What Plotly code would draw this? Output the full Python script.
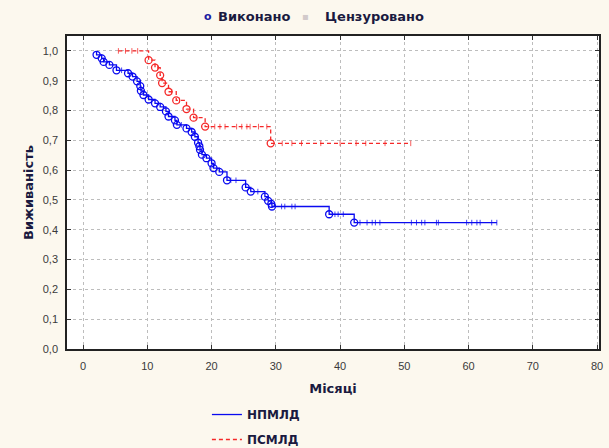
import plotly.graph_objects as go
import numpy as np

# ---------------- data ----------------
x_title = "Місяці"
y_title = "Виживаність"
series_names = ["НПМЛД", "ПСМЛД"]
marker_names = ["Виконано", "Цензуровано"]

x_ticks = [0, 10, 20, 30, 40, 50, 60, 70, 80]
y_ticks = [0.0, 0.1, 0.2, 0.3, 0.4, 0.5, 0.6, 0.7, 0.8, 0.9, 1.0]
y_tick_labels = ["0,0", "0,1", "0,2", "0,3", "0,4", "0,5", "0,6", "0,7", "0,8", "0,9", "1,0"]

# НПМЛД (blue): complete observations (events) and survival after each
npmld_event_t = [2.1, 2.9, 3.2, 4.1, 5.2, 7.0, 7.7, 8.4, 8.9, 9.0, 9.4, 10.2, 11.2, 12.0,
                 12.9, 13.3, 14.3, 14.6, 16.1, 16.9, 17.4, 17.9, 18.1, 18.2, 18.5, 19.2,
                 20.0, 20.3, 21.2, 22.4, 25.3, 26.1, 28.3, 28.8, 29.3, 29.4, 38.3, 42.2]
npmld_event_s = [0.987, 0.975, 0.963, 0.953, 0.935, 0.925, 0.914, 0.898, 0.882, 0.866, 0.852,
                 0.837, 0.824, 0.812, 0.797, 0.780, 0.767, 0.752, 0.740, 0.728, 0.712, 0.692,
                 0.680, 0.668, 0.652, 0.640, 0.623, 0.607, 0.594, 0.566, 0.542, 0.528, 0.511,
                 0.497, 0.487, 0.478, 0.452, 0.424]
npmld_cens_t = [6.0, 15.3, 23.0, 23.8, 27.2, 30.9, 31.4, 32.5, 33.0, 39.2, 39.7, 40.5,
                43.1, 44.2, 45.0, 45.5, 46.2, 51.1, 51.9, 52.7, 53.2, 55.0, 55.3, 59.7,
                60.5, 61.3, 61.8, 63.6, 64.4]

# ПСМЛД (red)
psmld_event_t = [10.2, 11.2, 12.0, 12.3, 13.3, 14.5, 16.1, 17.2, 19.0, 29.2]
psmld_event_s = [0.969, 0.944, 0.918, 0.892, 0.863, 0.834, 0.805, 0.776, 0.746, 0.690]
psmld_cens_t = [5.5, 6.6, 7.6, 8.5, 11.6, 13.8, 15.0, 17.6, 20.5, 21.3, 22.1, 23.9, 24.7,
                25.5, 26.0, 27.3, 28.6, 31.0, 32.5, 34.0, 37.0, 40.0, 42.5, 44.0, 47.0, 51.0]

BLUE = "#0a0af0"
RED = "#f52828"
BG = "#FCF8EE"
TXT = "#1a1a40"
FONT = "Liberation Sans, Arial, sans-serif"
LFONT = "DejaVu Sans, Liberation Sans, sans-serif"


def surv_at(t, ev_t, ev_s):
    s = 1.0
    for et, es in zip(ev_t, ev_s):
        if et <= t:
            s = es
    return s


def km_path(ev_t, ev_s, cens_t):
    times = sorted(list(ev_t) + list(cens_t))
    xs = [times[0]] + times
    ys = [1.0] + [surv_at(t, ev_t, ev_s) for t in times]
    return xs, ys


fig = go.Figure()

groups = [
    (series_names[0], npmld_event_t, npmld_event_s, npmld_cens_t, BLUE, "solid"),
    (series_names[1], psmld_event_t, psmld_event_s, psmld_cens_t, RED, "4px,3px"),
]

for i, (name, et, es, ct, col, dash) in enumerate(groups):
    xs, ys = km_path(et, es, ct)
    fig.add_trace(go.Scatter(
        x=xs, y=ys, mode="lines", line=dict(color=col, width=1.3, dash=dash, shape="hv"),
        name=name, legend="legend2", legendgroup=name, hoverinfo="skip"))
    fig.add_trace(go.Scatter(
        x=et, y=es, mode="markers",
        marker=dict(symbol="circle-open", size=7, color=col, line=dict(width=1.3)),
        showlegend=False, hoverinfo="skip"))
    fig.add_trace(go.Scatter(
        x=ct, y=[surv_at(t, et, es) for t in ct], mode="markers",
        marker=dict(symbol="line-ns-open", size=4, color=col, opacity=0.75,
                    line=dict(width=1, color=col)),
        showlegend=False, hoverinfo="skip"))

axis_common = dict(
    showline=True, linecolor="#222", linewidth=1.5, mirror="ticks",
    ticks="inside", ticklen=4, tickcolor="#333",
    showgrid=True, gridcolor="#bdbdbd", griddash="dot", gridwidth=1,
    zeroline=False, tickfont=dict(family=FONT, size=11, color="#3a3a3a"),
    automargin=False,
)

# top legend (marker types) as text annotations
top_y = 1.061
top_font = dict(family=LFONT, size=13, color=TXT, weight="bold")
annotations = [
    dict(text="<b>o</b>", x=0.265, y=top_y, xanchor="center", yanchor="middle",
         font=dict(family=LFONT, size=11, color="#2020a0")),
    dict(text=marker_names[0], x=0.280, y=top_y, xanchor="left", yanchor="middle",
         font=top_font),
    dict(text="▪", x=0.449, y=top_y, xanchor="center", yanchor="middle",
         font=dict(family=LFONT, size=10, color="#d2caca")),
    dict(text=marker_names[1], x=0.481, y=top_y, xanchor="left", yanchor="middle",
         font=top_font),
]
for a in annotations:
    a.update(xref="paper", yref="paper", showarrow=False)

fig.update_layout(
    width=609, height=448,
    margin=dict(l=67, r=10, t=36, b=99, autoexpand=False),
    paper_bgcolor=BG, plot_bgcolor="white",
    font=dict(family=FONT),
    xaxis=dict(range=[-2.5, 80.3], tickvals=x_ticks, ticklabelstandoff=6,
               title=dict(text=x_title, standoff=13,
                          font=dict(family=LFONT, size=13, color=TXT, weight="bold")),
               **axis_common),
    yaxis=dict(range=[0, 1.05], tickvals=y_ticks, ticktext=y_tick_labels, ticklabelstandoff=5,
               title=dict(text=y_title, standoff=6,
                          font=dict(family=LFONT, size=13, color=TXT, weight="bold")),
               **axis_common),
    legend2=dict(orientation="v", x=0.263, xanchor="left", y=-0.163, yanchor="top",
                 bgcolor="rgba(0,0,0,0)", tracegroupgap=6, itemwidth=30,
                 font=dict(family=LFONT, size=12, color=TXT, weight="bold")),
    showlegend=True,
    annotations=annotations,
)

fig.write_html(
    "out.html",
    config={"displayModeBar": False},
    post_script="document.body.style.margin='0';document.body.style.padding='0';"
                "document.body.style.background='" + BG + "';"
                "document.body.style.overflow='hidden';",
)
